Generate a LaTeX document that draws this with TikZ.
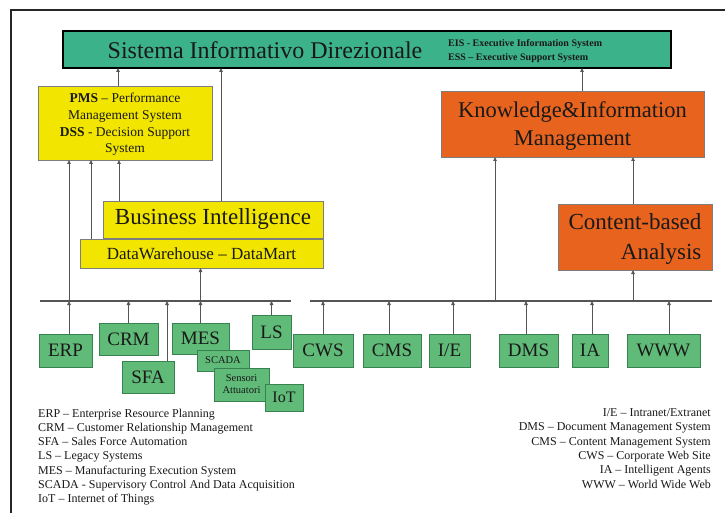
\documentclass[tikz,border=0pt]{standalone}
\usepackage{fontspec}
\setmainfont{Liberation Serif}
\usetikzlibrary{arrows.meta}

\definecolor{sidfill}{RGB}{60,178,138}
\definecolor{biyellow}{RGB}{242,230,0}
\definecolor{kmorange}{RGB}{232,100,30}
\definecolor{srcgreen}{RGB}{96,186,120}
\definecolor{srcline}{RGB}{55,130,80}
\definecolor{boxline}{RGB}{125,125,125}
\definecolor{wire}{RGB}{85,85,85}
\definecolor{inkdark}{RGB}{25,25,25}

\begin{document}
\begin{tikzpicture}[x=1pt,y=-1pt,
  box/.style={draw, inner sep=0pt, outer sep=0pt, anchor=north west, text=inkdark},
  sidbox/.style={box, fill=sidfill, draw=black, line width=2pt},
  yellowbox/.style={box, fill=biyellow, draw=boxline, line width=0.8pt},
  orangebox/.style={box, fill=kmorange, draw=boxline, line width=0.8pt},
  srcbox/.style={box, fill=srcgreen, draw=srcline, line width=0.8pt,
    font=\fontsize{19}{21}\selectfont},
  smallsrc/.style={srcbox, font=\fontsize{10.5}{12}\selectfont},
  conn/.style={draw=wire, line width=0.8pt},
  arr/.style={conn, -{Triangle[length=4pt,width=3.5pt]}},
  busline/.style={draw=wire, line width=1.4pt},
  legend/.style={inner sep=0pt, text=inkdark, font=\fontsize{12}{14.3}\selectfont}]

\useasboundingbox (0,0) rectangle (725,513);
\fill[white] (0,0) rectangle (725,513);

% frame
\draw[line width=1.3pt, black!85] (11,513) -- (11,10) -- (725,10);

% executive information system
\node[sidbox, minimum width=608pt, minimum height=37pt] (sid) at (63,31) {};
\node[text=inkdark, font=\fontsize{24}{26}\selectfont, inner sep=0pt] (sidtitle) at (265,50) {Sistema Informativo Direzionale};
\node[anchor=west, align=left, text=inkdark, inner sep=0pt,
  font=\fontsize{10}{14}\selectfont\bfseries] (sideis) at (448,51)
  {EIS - Executive Information System\\ESS – Executive Support System};

% decision support
\node[yellowbox, minimum width=174pt, minimum height=74pt, align=center,
  text depth=-1pt, font=\fontsize{13.5}{16.6}\selectfont] (pms) at (38,86)
  {\textbf{PMS} – Performance\\Management System\\\textbf{DSS} - Decision Support\\System};

% knowledge management
\node[orangebox, minimum width=263pt, minimum height=66pt, align=center,
  text depth=-2pt, font=\fontsize{22.5}{28}\selectfont] (kim) at (441,91)
  {Knowledge\&Information\\Management};

% business intelligence stack
\node[yellowbox, minimum width=220pt, minimum height=37pt,
  font=\fontsize{23}{25}\selectfont] (bi) at (103,201) {Business Intelligence};
\node[yellowbox, minimum width=243pt, minimum height=29pt,
  font=\fontsize{17}{19}\selectfont] (dw) at (80,239) {DataWarehouse – DataMart};

% content analysis
\node[orangebox, minimum width=154pt, minimum height=66pt, align=right,
  text depth=-3pt, font=\fontsize{23}{30}\selectfont] (cba) at (558,204) {Content-based\\Analysis};

% buses
\coordinate (lb1) at (40,301);
\coordinate (lb2) at (291,301);
\coordinate (rb1) at (310,301);
\coordinate (rb2) at (712,301);
\draw[busline] (lb1) -- (lb2);
\draw[busline] (rb1) -- (rb2);

% operational sources (left)
\node[srcbox, minimum width=53pt, minimum height=33pt] (erp) at (39,334) {ERP};
\node[srcbox, minimum width=59pt, minimum height=32pt] (crm) at (99,323) {CRM};
\node[srcbox, minimum width=52pt, minimum height=32pt] (sfa) at (122,361) {SFA};
\node[srcbox, minimum width=57pt, minimum height=31pt] (mes) at (172,323) {MES};
\node[smallsrc, minimum width=52pt, minimum height=21pt] (scada) at (197,350) {SCADA};
\node[smallsrc, minimum width=55pt, minimum height=33pt, align=center] (sens) at (214,368) {Sensori\\Attuatori};
\node[srcbox, minimum width=38pt, minimum height=27pt, font=\fontsize{16}{18}\selectfont] (iot) at (265,384) {IoT};
\node[srcbox, minimum width=39pt, minimum height=34pt] (ls) at (252,315) {LS};

% web and document sources (right)
\node[srcbox, minimum width=60pt, minimum height=33pt] (cws) at (293,334) {CWS};
\node[srcbox, minimum width=58pt, minimum height=33pt] (cms) at (363,334) {CMS};
\node[srcbox, minimum width=41pt, minimum height=33pt] (ie) at (429,334) {I/E};
\node[srcbox, minimum width=59pt, minimum height=33pt] (dms) at (499,334) {DMS};
\node[srcbox, minimum width=36pt, minimum height=33pt] (ia) at (572,334) {IA};
\node[srcbox, minimum width=73pt, minimum height=33pt] (www) at (627,334) {WWW};

% connectors, left side
\draw[arr] ([xshift=3.5pt]erp.north) -- ([xshift=3.5pt]erp.north |- lb1);
\draw[arr] ([xshift=3.5pt]erp.north |- lb1) -- ([xshift=3.5pt]erp.north |- pms.south);
\draw[arr] (crm.north) -- (crm.north |- lb1);
\draw[arr] ([xshift=19pt]sfa.north) -- ([xshift=19pt]sfa.north |- lb1);
\draw[arr] (mes.north) -- (mes.north |- lb1);
\draw[arr] (mes.north |- lb1) -- (mes.north |- dw.south);
\draw[arr] (ls.north) -- (ls.north |- lb1);
\draw[arr] ([xshift=-34pt]pms.south |- dw.north) -- ([xshift=-34pt]pms.south);
\draw[arr] ([xshift=-6pt]pms.south |- bi.north) -- ([xshift=-6pt]pms.south);
\draw[arr] ([xshift=-7pt]pms.north) -- ([xshift=-7pt]pms.north |- sid.south);
\draw[arr] ([xshift=8pt]bi.north) -- ([xshift=8pt]bi.north |- sid.south);

% connectors, right side
\draw[arr] (cws.north) -- (cws.north |- rb1);
\draw[arr] ([xshift=-3pt]cms.north) -- ([xshift=-3pt]cms.north |- rb1);
\draw[arr] ([xshift=3.5pt]ie.north) -- ([xshift=3.5pt]ie.north |- rb1);
\draw[arr] ([xshift=-2.5pt]dms.north) -- ([xshift=-2.5pt]dms.north |- rb1);
\draw[arr] ([xshift=2pt]ia.north) -- ([xshift=2pt]ia.north |- rb1);
\draw[arr] ([xshift=5.5pt]www.north) -- ([xshift=5.5pt]www.north |- rb1);
\draw[arr] ([xshift=-77.5pt]kim.south |- rb1) -- ([xshift=-77.5pt]kim.south);
\draw[arr] ([xshift=-2pt]cba.south |- rb1) -- ([xshift=-2pt]cba.south);
\draw[arr] ([xshift=-2pt]cba.north) -- ([xshift=-2pt]cba.north |- kim.south);
\draw[arr] ([xshift=9.5pt]kim.north) -- ([xshift=9.5pt]kim.north |- sid.south);

% legends
\node[legend, anchor=north west, align=left] (legl) at (38,408.5)
  {ERP – Enterprise Resource Planning\\
   CRM – Customer Relationship Management\\
   SFA – Sales Force Automation\\
   LS – Legacy Systems\\
   MES – Manufacturing Execution System\\
   SCADA - Supervisory Control And Data Acquisition\\
   IoT – Internet of Things};
\node[legend, anchor=north east, align=right] (legr) at (711,408.5)
  {I/E – Intranet/Extranet\\
   DMS – Document Management System\\
   CMS – Content Management System\\
   CWS – Corporate Web Site\\
   IA – Intelligent Agents\\
   WWW – World Wide Web};
\end{tikzpicture}
\end{document}
